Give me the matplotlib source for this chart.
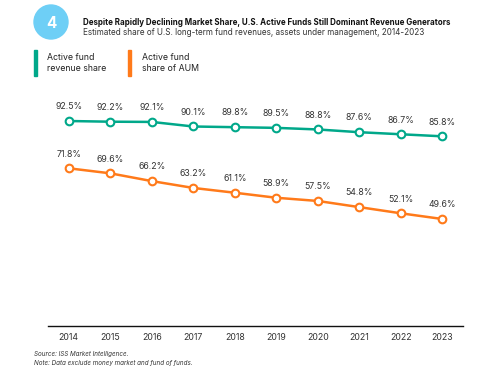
import matplotlib
matplotlib.use("Agg")
import matplotlib.pyplot as plt
from matplotlib.patches import Circle, Rectangle

plt.rcParams['font.family'] = ['Inter', 'DejaVu Sans']

YEARS = ["2014", "2015", "2016", "2017", "2018", "2019", "2020", "2021", "2022", "2023"]
REVENUE_SHARE = [92.5, 92.2, 92.1, 90.1, 89.8, 89.5, 88.8, 87.6, 86.7, 85.8]
AUM_SHARE = [71.8, 69.6, 66.2, 63.2, 61.1, 58.9, 57.5, 54.8, 52.1, 49.6]

TEAL = "#00a88a"
ORANGE = "#ff7a1a"
W, H = 478, 389

fig = plt.figure(figsize=(W / 100, H / 100), dpi=100)
ax = fig.add_axes([48 / W, (H - 326) / H, (463 - 48) / W, (326 - 100) / H])

x = list(range(len(YEARS)))
for vals, color in [(REVENUE_SHARE, TEAL), (AUM_SHARE, ORANGE)]:
    ax.plot(x, vals, color=color, lw=1.8, marker="o", markersize=5.5,
            markerfacecolor="white", markeredgecolor=color, markeredgewidth=1.5, zorder=3)
    for xi, v in zip(x, vals):
        ax.annotate(f"{v}%", (xi, v), xytext=(0, 7), textcoords="offset points",
                    ha="center", va="bottom", fontsize=6.3, color="#333333")

ax.set_xlim(-0.5, len(YEARS) - 0.5)
ax.set_ylim(2.75, 101.7)
ax.set_xticks(x)
ax.set_xticklabels(YEARS, fontsize=6.3, color="#333333")
ax.tick_params(axis="x", length=0, pad=5)
ax.set_yticks([])
for s in ["top", "right", "left"]:
    ax.spines[s].set_visible(False)
ax.spines["bottom"].set_color("#111111")
ax.spines["bottom"].set_linewidth(1)

# header badge
badge = fig.add_axes([0, 0, 1, 1], zorder=-1)
badge.set_xlim(0, W)
badge.set_ylim(H, 0)
badge.axis("off")
badge.add_patch(Circle((51, 22), 17, color="#6ecff6"))
badge.text(51, 23, "4", color="white", fontsize=11, fontweight="bold", ha="center", va="center")
badge.text(83, 22, "Despite Rapidly Declining Market Share, U.S. Active Funds Still Dominant Revenue Generators",
           fontsize=5.75, fontweight="bold", ha="left", va="center", color="#111111")
badge.text(83, 32, "Estimated share of U.S. long-term fund revenues, assets under management, 2014-2023",
           fontsize=5.85, ha="left", va="center", color="#333333")

# legend
badge.add_patch(Rectangle((34, 50), 3, 26, color=TEAL))
badge.text(47, 63, "Active fund\nrevenue share", fontsize=6.3, ha="left", va="center",
           color="#222222", linespacing=1.3)
badge.add_patch(Rectangle((128, 50), 3, 26, color=ORANGE))
badge.text(142, 63, "Active fund\nshare of AUM", fontsize=6.3, ha="left", va="center",
           color="#222222", linespacing=1.3)

# footnotes
badge.text(34, 354, "Source: ISS Market Intelligence.", fontsize=4.5, style="italic",
           ha="left", va="center", color="#333333")
badge.text(34, 363, "Note: Data exclude money market and fund of funds.", fontsize=4.5, style="italic",
           ha="left", va="center", color="#333333")

fig.savefig("out.png", dpi=100)
